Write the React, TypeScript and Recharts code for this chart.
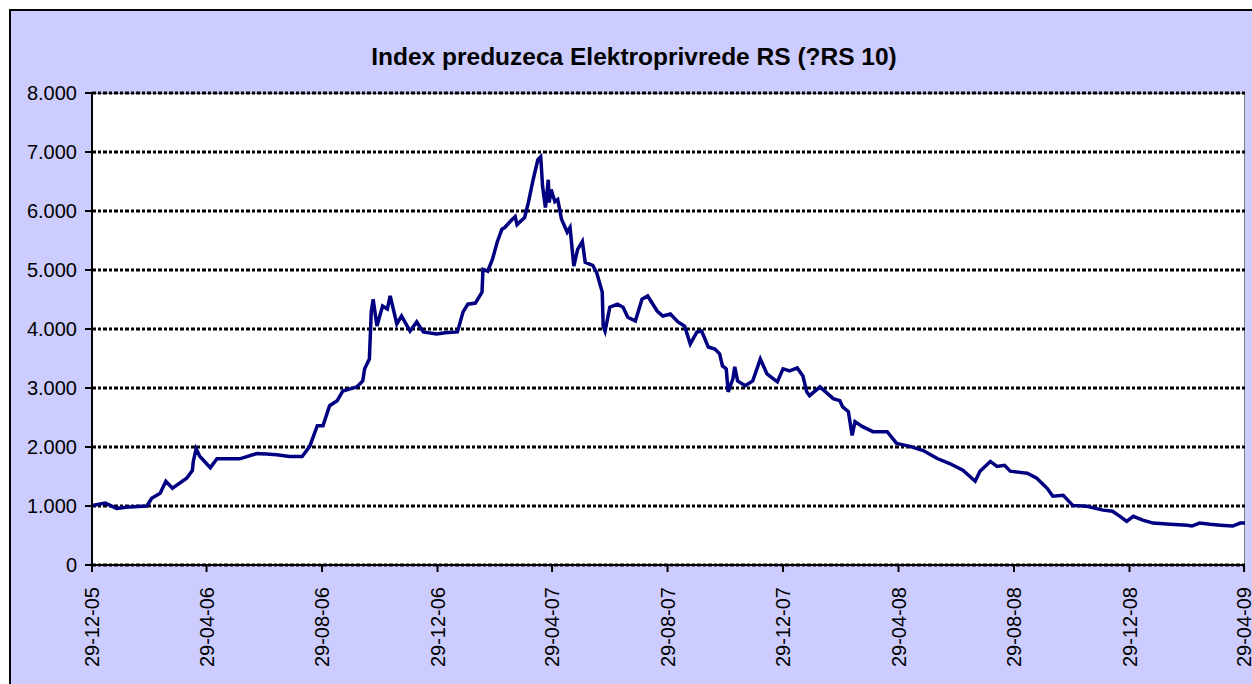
import React from 'react';
import { LineChart, Line, XAxis, YAxis, CartesianGrid } from 'recharts';

// index level (dates as yyyy-mm-dd)
const dates = [
  '2005-12-29', '2006-01-12', '2006-01-24', '2006-02-07', '2006-02-25', '2006-03-02', '2006-03-11', '2006-03-17',
  '2006-03-24', '2006-04-08', '2006-04-14', '2006-04-15', '2006-04-18', '2006-04-22', '2006-05-03', '2006-05-10',
  '2006-06-03', '2006-06-21', '2006-07-12', '2006-07-26', '2006-08-08', '2006-08-16', '2006-08-24', '2006-08-30',
  '2006-09-06', '2006-09-14', '2006-09-20', '2006-10-05', '2006-10-11', '2006-10-13', '2006-10-18', '2006-10-20',
  '2006-10-22', '2006-10-26', '2006-10-29', '2006-11-01', '2006-11-06', '2006-11-09', '2006-11-16', '2006-11-21',
  '2006-11-30', '2006-12-07', '2006-12-14', '2006-12-28', '2007-01-06', '2007-01-19', '2007-01-25', '2007-01-30',
  '2007-02-07', '2007-02-14', '2007-02-15', '2007-02-20', '2007-02-25', '2007-03-02', '2007-03-07', '2007-03-10',
  '2007-03-18', '2007-03-21', '2007-03-23', '2007-03-31', '2007-04-04', '2007-04-09', '2007-04-14', '2007-04-17',
  '2007-04-19', '2007-04-22', '2007-04-25', '2007-04-26', '2007-04-28', '2007-05-02', '2007-05-05', '2007-05-09',
  '2007-05-15', '2007-05-18', '2007-05-22', '2007-05-26', '2007-05-31', '2007-06-03', '2007-06-11', '2007-06-15',
  '2007-06-21', '2007-06-22', '2007-06-24', '2007-06-29', '2007-07-07', '2007-07-13', '2007-07-18', '2007-07-26',
  '2007-08-02', '2007-08-08', '2007-08-18', '2007-08-24', '2007-09-01', '2007-09-09', '2007-09-16', '2007-09-22',
  '2007-09-29', '2007-10-04', '2007-10-11', '2007-10-18', '2007-10-23', '2007-10-26', '2007-10-30', '2007-11-01',
  '2007-11-06', '2007-11-08', '2007-11-11', '2007-11-19', '2007-11-27', '2007-12-05', '2007-12-12', '2007-12-23',
  '2007-12-29', '2008-01-05', '2008-01-13', '2008-01-19', '2008-01-23', '2008-01-26', '2008-02-06', '2008-02-20',
  '2008-02-27', '2008-03-01', '2008-03-07', '2008-03-11', '2008-03-14', '2008-03-22', '2008-04-02', '2008-04-17',
  '2008-04-27', '2008-05-11', '2008-05-25', '2008-06-09', '2008-06-22', '2008-07-06', '2008-07-19', '2008-07-24',
  '2008-08-04', '2008-08-11', '2008-08-19', '2008-08-25', '2008-09-12', '2008-09-22', '2008-10-03', '2008-10-09',
  '2008-10-20', '2008-10-30', '2008-11-14', '2008-12-01', '2008-12-11', '2008-12-19', '2008-12-26', '2009-01-02',
  '2009-01-12', '2009-01-23', '2009-02-10', '2009-02-28', '2009-03-05', '2009-03-13', '2009-03-24', '2009-04-04',
  '2009-04-17', '2009-04-25', '2009-04-30',
];

const indexValues = [
  1010, 1050, 960, 985, 1000, 1130, 1215, 1420,
  1300, 1470, 1600, 1755, 1970, 1840, 1650, 1800,
  1800, 1890, 1870, 1840, 1840, 2010, 2360, 2360,
  2700, 2785, 2950, 3020, 3120, 3325, 3490, 4290,
  4505, 4050, 4220, 4390, 4340, 4560, 4085, 4220,
  3965, 4120, 3950, 3915, 3935, 3950, 4290, 4420,
  4440, 4625, 5010, 4980, 5180, 5470, 5690, 5720,
  5860, 5905, 5770, 5890, 6145, 6530, 6870, 6920,
  6415, 6060, 6530, 6145, 6365, 6160, 6195, 5860,
  5640, 5720, 5065, 5350, 5485, 5130, 5080, 4960,
  4625, 4050, 3965, 4370, 4420, 4370, 4200, 4135,
  4505, 4560, 4305, 4220, 4255, 4120, 4050, 3745,
  3950, 3965, 3695, 3660, 3580, 3375, 3325, 2935,
  3155, 3360, 3120, 3040, 3120, 3490, 3240, 3105,
  3325, 3290, 3340, 3205, 2935, 2870, 3020, 2820,
  2785, 2680, 2600, 2195, 2430, 2345, 2260, 2260,
  2060, 2010, 1940, 1805, 1720, 1605, 1420, 1590,
  1755, 1670, 1690, 1590, 1555, 1470, 1300, 1165,
  1180, 1010, 995, 930, 910, 825, 740, 825,
  760, 710, 690, 675, 660, 710, 690, 675,
  660, 710, 710,
];

const xTickLabels = [
  '29-12-05', '29-04-06', '29-08-06', '29-12-06', '29-04-07', '29-08-07',
  '29-12-07', '29-04-08', '29-08-08', '29-12-08', '29-04-09',
];
const yTicks = [0, 1000, 2000, 3000, 4000, 5000, 6000, 7000, 8000];

const labelToTime = (s: string) => {
  const [d, m, y] = s.split('-').map(Number);
  return Date.UTC(2000 + y, m - 1, d);
};
const xTicks = xTickLabels.map(labelToTime);
const DAY = 86400000;

const data = dates.map((d, i) => ({ t: Date.parse(d), v: indexValues[i] }));

const FONT = '"Liberation Sans", Arial, sans-serif';
const W = 1241;
const H = 673;
const M = { top: 82, right: 7, left: 0, bottom: 9 };
const Y_W = 81;
const X_H = 110;

const fmtY = (v: number) => (v === 0 ? '0' : (v / 1000).toFixed(3));

const XTick = (props: any) => {
  const { x, y, payload } = props;
  const idx = xTicks.indexOf(payload.value);
  return (
    <text
      x={x}
      y={y}
      transform={`rotate(-90 ${x} ${y})`}
      textAnchor="end"
      dy="0.35em"
      fontSize={20}
      fontFamily={FONT}
      fill="#000"
    >
      {idx >= 0 ? xTickLabels[idx] : ''}
    </text>
  );
};

export default function App() {
  const plotW = W - M.left - M.right - Y_W;
  const plotH = H - M.top - M.bottom - X_H;
  return (
    <div
      style={{
        position: 'fixed',
        left: 9,
        top: 9,
        width: W + 2,
        height: H + 2,
        boxSizing: 'border-box',
        borderLeft: '2px solid #000',
        borderTop: '2px solid #000',
        background: '#CCCCFF',
        overflow: 'hidden',
        fontFamily: FONT,
      }}
    >
      <div
        style={{
          position: 'absolute',
          left: 0,
          width: 1246,
          top: 31,
          textAlign: 'center',
          fontWeight: 'bold',
          fontSize: 24.5,
          lineHeight: '30px',
          color: '#000',
        }}
      >
        Index preduzeca Elektroprivrede RS (?RS 10)
      </div>
      <div
        style={{
          position: 'absolute',
          left: M.left + Y_W,
          top: M.top,
          width: plotW,
          height: plotH,
          boxSizing: 'border-box',
          background: '#fff',
          borderTop: '1px solid #808080',
          borderRight: '1px solid #808080',
        }}
      />
      <div style={{ position: 'absolute', left: 0, top: 0 }}>
        <LineChart width={W} height={H} data={data} margin={M}>
          <CartesianGrid
            vertical={false}
            stroke="#000"
            strokeWidth={3}
            strokeDasharray="4 2 3 2"
          />
          <XAxis
            dataKey="t"
            type="number"
            domain={[xTicks[0], xTicks[xTicks.length - 1] + DAY]}
            ticks={xTicks}
            interval={0}
            height={X_H}
            tick={<XTick />}
            tickSize={7}
            tickMargin={15}
            axisLine={{ stroke: '#000', strokeWidth: 2 }}
            tickLine={{ stroke: '#000', strokeWidth: 2 }}
            allowDataOverflow
          />
          <YAxis
            domain={[0, 8000]}
            ticks={yTicks}
            interval={0}
            width={Y_W}
            tickFormatter={fmtY}
            tickSize={7}
            tickMargin={8}
            tick={{ fill: '#000', fontSize: 20, fontFamily: FONT }}
            axisLine={{ stroke: '#000', strokeWidth: 2 }}
            tickLine={{ stroke: '#000', strokeWidth: 2 }}
          />
          <Line
            type="linear"
            dataKey="v"
            stroke="#000080"
            strokeWidth={3.5}
            dot={false}
            isAnimationActive={false}
          />
        </LineChart>
      </div>
    </div>
  );
}
